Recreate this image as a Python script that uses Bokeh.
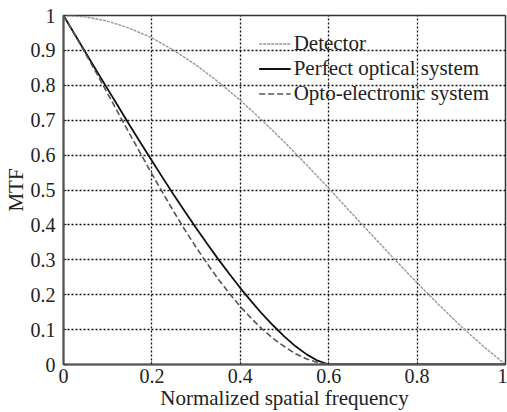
from bokeh.plotting import figure
from bokeh.models import FixedTicker, Range1d, Legend, LegendItem
from bokeh.embed import file_html
from bokeh.resources import INLINE

# Detector
det_f = [0, 0.05, 0.10, 0.15, 0.20, 0.25, 0.30, 0.35, 0.40, 0.45, 0.50,
         0.55, 0.60, 0.65, 0.70, 0.75, 0.80, 0.85, 0.90, 0.95, 1.0]
det_mtf = [1.0, 0.996, 0.984, 0.963, 0.936, 0.900, 0.858, 0.810, 0.757, 0.699, 0.637,
           0.572, 0.505, 0.436, 0.368, 0.300, 0.234, 0.170, 0.109, 0.052, 0.0]

# Perfect optical system and opto-electronic system
opt_f = [0, 0.025, 0.05, 0.075, 0.10, 0.125, 0.15, 0.175, 0.20, 0.225, 0.25,
         0.275, 0.30, 0.325, 0.35, 0.375, 0.40, 0.425, 0.45, 0.475, 0.50,
         0.525, 0.55, 0.575, 0.60, 0.8, 1.0]
perfect_mtf = [1.0, 0.947, 0.894, 0.841, 0.789, 0.737, 0.685, 0.634, 0.584, 0.534, 0.485,
               0.438, 0.391, 0.346, 0.302, 0.260, 0.219, 0.181, 0.144, 0.111, 0.080,
               0.052, 0.029, 0.011, 0.0, 0.0, 0.0]
opto_mtf = [1.0, 0.946, 0.890, 0.834, 0.776, 0.718, 0.660, 0.603, 0.546, 0.491, 0.437,
            0.385, 0.336, 0.289, 0.245, 0.204, 0.166, 0.132, 0.101, 0.074, 0.051,
            0.031, 0.016, 0.006, 0.0, 0.0, 0.0]

x_ticks = [0, 0.2, 0.4, 0.6, 0.8, 1.0]
x_labels = ["0", "0.2", "0.4", "0.6", "0.8", "1"]
y_ticks = [0, 0.1, 0.2, 0.3, 0.4, 0.5, 0.6, 0.7, 0.8, 0.9, 1.0]
y_labels = ["0", "0.1", "0.2", "0.3", "0.4", "0.5", "0.6", "0.7", "0.8", "0.9", "1"]

FONT = "Liberation Serif"

p = figure(width=507, height=412, output_backend="svg", toolbar_location=None,
           x_range=Range1d(0, 1), y_range=Range1d(0, 1),
           min_border_left=60, min_border_right=2, min_border_top=15, min_border_bottom=47)
p.background_fill_color = "white"
p.border_fill_color = "white"
p.outline_line_color = "#333333"
p.outline_line_width = 1.5

for ax in (p.xaxis[0], p.yaxis[0]):
    ax.major_label_text_font = FONT
    ax.major_label_text_font_size = "20px"
    ax.major_label_text_color = "#222222"
    ax.axis_label_text_font = FONT
    ax.axis_label_text_font_size = "21px"
    ax.axis_label_text_font_style = "normal"
    ax.axis_label_text_color = "#222222"
    ax.axis_line_color = "#555555"
    ax.axis_line_width = 2
    ax.major_tick_in = 3
    ax.major_tick_out = 0
    ax.minor_tick_line_color = None
    ax.major_tick_line_color = "#333333"

p.xaxis.ticker = FixedTicker(ticks=x_ticks)
p.yaxis.ticker = FixedTicker(ticks=y_ticks)
p.xaxis.major_label_overrides = {t: l for t, l in zip(x_ticks, x_labels)}
p.yaxis.major_label_overrides = {t: l for t, l in zip(y_ticks, y_labels)}
p.xaxis.axis_label = "Normalized spatial frequency"
p.yaxis.axis_label = "MTF"
p.xaxis.major_label_standoff = 4
p.yaxis.major_label_standoff = 8
p.xaxis.axis_label_standoff = 0
p.yaxis.axis_label_standoff = 0

for g in (p.xgrid[0], p.ygrid[0]):
    g.grid_line_color = "#111111"
    g.grid_line_dash = "2 2"
    g.grid_line_width = 1.3
    g.grid_line_alpha = 1.0

r_det = p.line(det_f, det_mtf, line_color="#999999", line_width=1.4, line_dash="3 1")
r_per = p.line(opt_f, perfect_mtf, line_color="#111111", line_width=1.8)
r_opt = p.line(opt_f, opto_mtf, line_color="#555555", line_width=1.6, line_dash="6 3")

legend = Legend(items=[
    LegendItem(label="Detector", renderers=[r_det]),
    LegendItem(label="Perfect optical system", renderers=[r_per]),
    LegendItem(label="Opto-electronic system", renderers=[r_opt]),
], location="top_right")
legend.label_text_font = FONT
legend.label_text_font_size = "21px"
legend.label_text_color = "#222222"
legend.background_fill_alpha = 0
legend.border_line_alpha = 0
legend.glyph_width = 32
legend.label_standoff = 3
legend.spacing = 0
legend.label_height = 25
legend.glyph_height = 25
legend.padding = 0
legend.margin = 16
p.add_layout(legend)

open("out.html", "w").write(file_html(p, INLINE))
